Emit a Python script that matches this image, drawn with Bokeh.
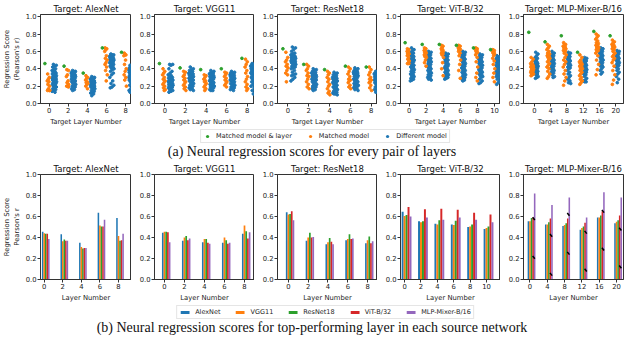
from bokeh.plotting import figure
from bokeh.models import Range1d, FixedTicker, NumeralTickFormatter, Legend, LegendItem, Div
from bokeh.layouts import column, row
from bokeh.embed import file_html
from bokeh.resources import INLINE

# ------------------------------------------------------------------ data
model_names = ["AlexNet", "VGG11", "ResNet18", "ViT-B/32", "MLP-Mixer-B/16"]
strip_legend = ["Matched model & layer", "Matched model", "Different model"]

# (a) strip plots: per target layer, green = matched model & layer, orange = matched model, blue = different model
alex_layers = [0, 2, 4, 6, 8]
alex_green = [0.46, 0.43, 0.35, 0.64, 0.59]
alex_orange = [
    [0.34, 0.30, 0.28, 0.26, 0.25, 0.22, 0.20, 0.17, 0.15, 0.15, 0.16, 0.15],
    [0.39, 0.38, 0.33, 0.31, 0.26, 0.24, 0.22, 0.20, 0.20, 0.19],
    [0.32, 0.30, 0.29, 0.27, 0.25, 0.24, 0.23, 0.22, 0.20, 0.17],
    [0.64, 0.63, 0.62, 0.60, 0.55, 0.52, 0.50, 0.47, 0.45, 0.42, 0.38, 0.33, 0.26],
    [0.58, 0.56, 0.56, 0.55, 0.50, 0.45, 0.40, 0.37, 0.33, 0.30, 0.27, 0.20],
]
alex_blue = [
    [0.45, 0.44, 0.43, 0.42, 0.40, 0.39, 0.38, 0.37, 0.36, 0.35, 0.35, 0.34, 0.33, 0.33, 0.32, 0.31, 0.31, 0.30, 0.30, 0.29, 0.29,
     0.28, 0.28, 0.27, 0.27, 0.26, 0.26, 0.25, 0.25, 0.24, 0.23, 0.23, 0.22, 0.21, 0.20, 0.19, 0.18, 0.17, 0.16, 0.15, 0.14, 0.13],
    [0.38, 0.37, 0.37, 0.36, 0.36, 0.35, 0.35, 0.34, 0.34, 0.33, 0.33, 0.32, 0.32, 0.31, 0.31, 0.30, 0.30, 0.29, 0.29, 0.28, 0.28,
     0.27, 0.26, 0.26, 0.25, 0.24, 0.23, 0.22, 0.21, 0.20, 0.19, 0.18, 0.17, 0.16, 0.15],
    [0.31, 0.30, 0.30, 0.29, 0.29, 0.28, 0.28, 0.27, 0.27, 0.26, 0.26, 0.25, 0.25, 0.24, 0.24, 0.23, 0.23, 0.22, 0.22, 0.21, 0.21,
     0.20, 0.20, 0.19, 0.19, 0.18, 0.18, 0.17, 0.16, 0.15, 0.14, 0.13, 0.12, 0.11, 0.09],
    [0.57, 0.56, 0.56, 0.55, 0.55, 0.54, 0.54, 0.53, 0.53, 0.52, 0.52, 0.51, 0.51, 0.50, 0.50, 0.49, 0.49, 0.48, 0.48, 0.47, 0.46,
     0.46, 0.45, 0.44, 0.43, 0.42, 0.41, 0.40, 0.39, 0.37, 0.35, 0.33, 0.30, 0.26, 0.23, 0.21, 0.19, 0.18],
    [0.44, 0.43, 0.42, 0.41, 0.40, 0.40, 0.39, 0.38, 0.38, 0.37, 0.36, 0.36, 0.35, 0.34, 0.34, 0.33, 0.32, 0.32, 0.31, 0.30, 0.30,
     0.29, 0.28, 0.28, 0.27, 0.26, 0.25, 0.24, 0.23, 0.21, 0.19, 0.17, 0.15, 0.14, 0.13, 0.12],
]

vgg_layers = [0, 2, 4, 6, 8]
vgg_green = [0.46, 0.41, 0.39, 0.40, 0.52]
vgg_orange = [
    [0.40, 0.37, 0.35, 0.33, 0.30, 0.28, 0.26, 0.24, 0.22, 0.20, 0.18, 0.16, 0.15],
    [0.37, 0.36, 0.33, 0.31, 0.29, 0.27, 0.25, 0.23, 0.21, 0.19, 0.17, 0.15],
    [0.33, 0.32, 0.30, 0.28, 0.26, 0.25, 0.23, 0.21, 0.19, 0.17, 0.15],
    [0.36, 0.35, 0.33, 0.31, 0.29, 0.27, 0.25, 0.23, 0.21, 0.19],
    [0.51, 0.48, 0.45, 0.42, 0.38, 0.35, 0.31, 0.28, 0.25, 0.22, 0.19, 0.17, 0.15],
]
vgg_blue = [
    [0.45, 0.45, 0.44, 0.40, 0.37, 0.35, 0.33, 0.32, 0.31, 0.30, 0.30, 0.29, 0.28, 0.28, 0.27, 0.27, 0.26, 0.26, 0.25, 0.25, 0.24,
     0.24, 0.23, 0.23, 0.22, 0.22, 0.21, 0.21, 0.20, 0.20, 0.19, 0.19, 0.18, 0.17, 0.16, 0.15, 0.14, 0.13],
    [0.42, 0.40, 0.39, 0.38, 0.37, 0.36, 0.35, 0.35, 0.34, 0.34, 0.33, 0.33, 0.32, 0.32, 0.31, 0.31, 0.30, 0.30, 0.29, 0.29, 0.28,
     0.28, 0.27, 0.27, 0.26, 0.25, 0.24, 0.23, 0.22, 0.21, 0.20, 0.19, 0.18, 0.17, 0.16, 0.15],
    [0.38, 0.37, 0.36, 0.35, 0.35, 0.34, 0.34, 0.33, 0.33, 0.32, 0.32, 0.31, 0.31, 0.30, 0.30, 0.29, 0.28, 0.28, 0.27, 0.26, 0.25,
     0.25, 0.24, 0.23, 0.22, 0.22, 0.21, 0.20, 0.20, 0.19, 0.18, 0.17, 0.16, 0.15, 0.15],
    [0.37, 0.36, 0.35, 0.35, 0.34, 0.34, 0.33, 0.33, 0.32, 0.32, 0.31, 0.31, 0.30, 0.30, 0.29, 0.29, 0.28, 0.28, 0.27, 0.27, 0.26,
     0.26, 0.25, 0.24, 0.23, 0.23, 0.22, 0.21, 0.20, 0.19, 0.18, 0.17, 0.16, 0.15],
    [0.46, 0.45, 0.45, 0.44, 0.44, 0.43, 0.43, 0.42, 0.42, 0.41, 0.41, 0.40, 0.40, 0.39, 0.39, 0.38, 0.37, 0.37, 0.36, 0.35, 0.34,
     0.33, 0.32, 0.31, 0.30, 0.29, 0.28, 0.27, 0.26, 0.25, 0.24, 0.22, 0.20, 0.18, 0.15, 0.13, 0.11],
]

res_layers = [0, 2, 4, 6, 8]
res_green = [0.63, 0.45, 0.39, 0.43, 0.42]
res_orange = [
    [0.59, 0.53, 0.50, 0.48, 0.45, 0.43, 0.41, 0.38, 0.35, 0.33, 0.25],
    [0.45, 0.43, 0.40, 0.38, 0.35, 0.32, 0.31, 0.28, 0.25, 0.22, 0.19, 0.17],
    [0.37, 0.35, 0.33, 0.30, 0.28, 0.25, 0.22, 0.20, 0.17, 0.14, 0.12, 0.10],
    [0.42, 0.40, 0.37, 0.34, 0.31, 0.28, 0.27, 0.26, 0.24, 0.21, 0.19, 0.17],
    [0.42, 0.39, 0.36, 0.33, 0.30, 0.28, 0.27, 0.25, 0.24, 0.21, 0.18, 0.15],
]
res_blue = [
    [0.65, 0.64, 0.62, 0.60, 0.58, 0.57, 0.56, 0.55, 0.55, 0.54, 0.54, 0.53, 0.53, 0.52, 0.52, 0.51, 0.51, 0.50, 0.50, 0.49, 0.49,
     0.48, 0.48, 0.47, 0.47, 0.46, 0.46, 0.45, 0.44, 0.43, 0.42, 0.41, 0.40, 0.38, 0.36, 0.34, 0.33, 0.32, 0.30, 0.28, 0.26],
    [0.40, 0.39, 0.38, 0.37, 0.36, 0.35, 0.35, 0.34, 0.34, 0.33, 0.33, 0.32, 0.32, 0.31, 0.31, 0.30, 0.30, 0.29, 0.29, 0.28, 0.28,
     0.27, 0.27, 0.26, 0.25, 0.24, 0.23, 0.22, 0.21, 0.20, 0.19, 0.18, 0.17, 0.16, 0.15],
    [0.36, 0.35, 0.34, 0.33, 0.32, 0.31, 0.30, 0.30, 0.29, 0.29, 0.28, 0.28, 0.27, 0.27, 0.26, 0.26, 0.25, 0.25, 0.24, 0.24, 0.23,
     0.22, 0.21, 0.20, 0.19, 0.18, 0.17, 0.16, 0.15, 0.14, 0.13, 0.12, 0.12, 0.11, 0.11, 0.10],
    [0.41, 0.40, 0.39, 0.38, 0.37, 0.37, 0.36, 0.36, 0.35, 0.35, 0.34, 0.34, 0.33, 0.33, 0.32, 0.32, 0.31, 0.30, 0.29, 0.28, 0.27,
     0.26, 0.25, 0.24, 0.23, 0.22, 0.22, 0.21, 0.21, 0.20, 0.20, 0.19, 0.18, 0.17, 0.16, 0.15],
    [0.37, 0.36, 0.36, 0.35, 0.35, 0.34, 0.34, 0.33, 0.33, 0.32, 0.32, 0.31, 0.31, 0.30, 0.30, 0.29, 0.29, 0.28, 0.28, 0.27, 0.27,
     0.26, 0.26, 0.25, 0.24, 0.23, 0.22, 0.21, 0.20, 0.19, 0.18, 0.17, 0.16, 0.14, 0.13, 0.12],
]

vit_layers = [0, 2, 4, 6, 8, 10]
vit_green = [0.70, 0.68, 0.68, 0.67, 0.64, 0.62]
vit_orange = [
    [0.63, 0.62, 0.61, 0.60, 0.59, 0.58, 0.57, 0.56, 0.55, 0.53, 0.51, 0.49, 0.47, 0.46, 0.46],
    [0.64, 0.63, 0.62, 0.61, 0.60, 0.59, 0.58, 0.57, 0.56, 0.55, 0.54, 0.53, 0.50, 0.47, 0.43],
    [0.67, 0.66, 0.65, 0.63, 0.62, 0.61, 0.60, 0.59, 0.58, 0.57, 0.56, 0.53, 0.47, 0.40, 0.32],
    [0.67, 0.66, 0.65, 0.64, 0.63, 0.62, 0.62, 0.61, 0.60, 0.58, 0.55, 0.50, 0.45, 0.38, 0.29],
    [0.64, 0.63, 0.63, 0.62, 0.61, 0.60, 0.59, 0.58, 0.56, 0.53, 0.48, 0.42, 0.35, 0.30, 0.26],
    [0.62, 0.61, 0.61, 0.60, 0.59, 0.58, 0.57, 0.55, 0.52, 0.49, 0.45, 0.40, 0.35, 0.30, 0.25],
]
vit_blue = [
    [0.64, 0.62, 0.61, 0.59, 0.58, 0.57, 0.56, 0.55, 0.55, 0.54, 0.53, 0.52, 0.52, 0.51, 0.50, 0.49, 0.49, 0.48, 0.47, 0.46, 0.45,
     0.45, 0.44, 0.43, 0.42, 0.41, 0.40, 0.39, 0.38, 0.37, 0.36, 0.35, 0.34, 0.33, 0.32, 0.31, 0.30, 0.29, 0.28, 0.27, 0.26],
    [0.60, 0.59, 0.58, 0.57, 0.56, 0.55, 0.54, 0.53, 0.53, 0.52, 0.51, 0.50, 0.49, 0.48, 0.48, 0.47, 0.46, 0.45, 0.44, 0.43, 0.42,
     0.41, 0.40, 0.39, 0.38, 0.37, 0.36, 0.35, 0.34, 0.33, 0.32, 0.31, 0.30, 0.29, 0.28, 0.27],
    [0.58, 0.57, 0.56, 0.55, 0.54, 0.53, 0.52, 0.51, 0.50, 0.50, 0.49, 0.48, 0.47, 0.46, 0.45, 0.44, 0.43, 0.43, 0.42, 0.41, 0.40,
     0.39, 0.38, 0.37, 0.36, 0.35, 0.34, 0.33, 0.32, 0.31, 0.30, 0.29, 0.28],
    [0.60, 0.59, 0.58, 0.57, 0.56, 0.55, 0.54, 0.53, 0.52, 0.51, 0.50, 0.49, 0.48, 0.47, 0.46, 0.45, 0.44, 0.43, 0.42, 0.41, 0.40,
     0.39, 0.38, 0.37, 0.36, 0.35, 0.34, 0.33, 0.32, 0.31, 0.30, 0.29, 0.28, 0.27, 0.26],
    [0.57, 0.56, 0.55, 0.54, 0.53, 0.52, 0.51, 0.50, 0.49, 0.48, 0.47, 0.46, 0.45, 0.44, 0.44, 0.43, 0.42, 0.41, 0.40, 0.39, 0.38,
     0.37, 0.36, 0.35, 0.34, 0.33, 0.32, 0.31, 0.30, 0.28, 0.26, 0.24, 0.23],
    [0.55, 0.54, 0.53, 0.52, 0.51, 0.50, 0.49, 0.48, 0.47, 0.46, 0.45, 0.44, 0.43, 0.42, 0.41, 0.40, 0.39, 0.38, 0.37, 0.36, 0.35,
     0.34, 0.33, 0.32, 0.31, 0.30, 0.28, 0.26, 0.24, 0.22],
]

mlp_layers = [0, 4, 8, 12, 16, 20]
mlp_green = [0.82, 0.71, 0.78, 0.59, 0.83, 0.78]
mlp_orange = [
    [0.53, 0.51, 0.48, 0.46, 0.45, 0.44, 0.43, 0.42, 0.42, 0.41, 0.40, 0.40, 0.39, 0.38, 0.38, 0.37, 0.36, 0.36, 0.35, 0.34, 0.33, 0.32],
    [0.68, 0.66, 0.64, 0.62, 0.60, 0.58, 0.57, 0.56, 0.55, 0.54, 0.53, 0.52, 0.50, 0.48, 0.46, 0.44, 0.42, 0.40, 0.37, 0.34, 0.31, 0.29],
    [0.70, 0.68, 0.67, 0.66, 0.65, 0.64, 0.63, 0.62, 0.61, 0.60, 0.58, 0.56, 0.53, 0.50, 0.48, 0.45, 0.42, 0.38, 0.34, 0.30, 0.26, 0.21],
    [0.56, 0.53, 0.50, 0.48, 0.47, 0.46, 0.45, 0.44, 0.43, 0.42, 0.41, 0.40, 0.39, 0.38, 0.36, 0.34, 0.32, 0.30, 0.28, 0.26, 0.24, 0.22],
    [0.80, 0.78, 0.76, 0.74, 0.72, 0.70, 0.69, 0.68, 0.67, 0.66, 0.65, 0.64, 0.63, 0.62, 0.61, 0.60, 0.58, 0.55, 0.50, 0.45, 0.39, 0.33],
    [0.73, 0.71, 0.70, 0.68, 0.67, 0.66, 0.65, 0.64, 0.63, 0.62, 0.60, 0.58, 0.56, 0.54, 0.52, 0.50, 0.47, 0.43, 0.38, 0.33, 0.27, 0.22],
]
mlp_blue = [
    [0.59, 0.57, 0.55, 0.53, 0.52, 0.50, 0.49, 0.48, 0.47, 0.46, 0.45, 0.45, 0.44, 0.43, 0.43, 0.42, 0.41, 0.41, 0.40, 0.39, 0.39,
     0.38, 0.37, 0.36, 0.35, 0.34, 0.33, 0.31, 0.30, 0.29],
    [0.60, 0.58, 0.57, 0.56, 0.55, 0.54, 0.53, 0.52, 0.51, 0.50, 0.49, 0.48, 0.48, 0.47, 0.46, 0.45, 0.44, 0.43, 0.42, 0.41, 0.40,
     0.39, 0.38, 0.37, 0.36, 0.35, 0.33, 0.31, 0.30],
    [0.59, 0.58, 0.56, 0.55, 0.54, 0.53, 0.52, 0.51, 0.50, 0.49, 0.48, 0.47, 0.46, 0.45, 0.44, 0.43, 0.42, 0.41, 0.40, 0.38, 0.36,
     0.34, 0.32, 0.30, 0.28, 0.26, 0.24, 0.23],
    [0.53, 0.52, 0.51, 0.50, 0.49, 0.48, 0.47, 0.46, 0.45, 0.44, 0.43, 0.42, 0.41, 0.40, 0.39, 0.38, 0.37, 0.36, 0.35, 0.34, 0.33,
     0.31, 0.29, 0.27, 0.26, 0.25, 0.25],
    [0.64, 0.63, 0.62, 0.61, 0.60, 0.59, 0.58, 0.57, 0.56, 0.55, 0.54, 0.53, 0.52, 0.51, 0.50, 0.49, 0.48, 0.47, 0.46, 0.45, 0.44,
     0.43, 0.42, 0.40, 0.38, 0.36, 0.34],
    [0.61, 0.60, 0.59, 0.58, 0.57, 0.56, 0.55, 0.54, 0.53, 0.52, 0.51, 0.50, 0.49, 0.48, 0.47, 0.46, 0.45, 0.44, 0.43, 0.42, 0.40,
     0.38, 0.36, 0.34, 0.31, 0.28, 0.24],
]

# (b) best layer of each source network (rows: source AlexNet, VGG11, ResNet18, ViT-B/32, MLP-Mixer-B/16)
alex_bars = [
    [0.455, 0.43, 0.35, 0.635, 0.585],
    [0.44, 0.365, 0.31, 0.515, 0.415],
    [0.435, 0.38, 0.295, 0.505, 0.37],
    [0.435, 0.37, 0.30, 0.505, 0.375],
    [0.385, 0.37, 0.30, 0.57, 0.435],
]
vgg_bars = [
    [0.445, 0.37, 0.355, 0.35, 0.435],
    [0.455, 0.40, 0.385, 0.40, 0.515],
    [0.455, 0.415, 0.385, 0.375, 0.46],
    [0.45, 0.375, 0.35, 0.34, 0.39],
    [0.355, 0.39, 0.34, 0.35, 0.45],
]
res_bars = [
    [0.64, 0.37, 0.335, 0.375, 0.345],
    [0.62, 0.40, 0.355, 0.385, 0.375],
    [0.625, 0.445, 0.395, 0.43, 0.41],
    [0.65, 0.40, 0.36, 0.385, 0.345],
    [0.565, 0.405, 0.335, 0.39, 0.365],
]
vit_bars = [
    [0.645, 0.555, 0.53, 0.525, 0.50, 0.48],
    [0.605, 0.545, 0.525, 0.52, 0.505, 0.49],
    [0.615, 0.555, 0.565, 0.56, 0.525, 0.505],
    [0.69, 0.67, 0.675, 0.665, 0.635, 0.62],
    [0.60, 0.59, 0.57, 0.59, 0.57, 0.545],
]
mlp_bars = [
    [0.555, 0.525, 0.51, 0.475, 0.59, 0.535],
    [0.555, 0.525, 0.52, 0.49, 0.59, 0.55],
    [0.585, 0.545, 0.535, 0.505, 0.61, 0.565],
    [0.59, 0.58, 0.58, 0.54, 0.65, 0.61],
    [0.82, 0.71, 0.78, 0.59, 0.83, 0.78],
]
mlp_marks_upper = [0.58, 0.42, 0.62, 0.45, 0.65, 0.48]
mlp_marks_lower = [0.21, 0.05, 0.25, 0.09, 0.29, 0.12]

y_ticks = [0.0, 0.2, 0.4, 0.6, 0.8, 1.0]

# ------------------------------------------------------------------ style / layout
BLUE, ORANGE, GREEN, RED, PURPLE = "#1f77b4", "#ff7f0e", "#2ca02c", "#d62728", "#9467bd"
SRC_COLORS = [BLUE, ORANGE, GREEN, RED, PURPLE]
FONT = "DejaVu Sans"
AX = "#333333"
FRAME_W = 100
LEFTS = [31, 23, 23, 23, 23]
RIGHTS = [0, 0, 0, 0, 1]
NAN = float("nan")

# per panel: x range, layer spacing, (green offset, orange centre, orange half-width, blue centre, blue half-width) in spacings
top_panels = [
    (alex_layers, alex_green, alex_orange, alex_blue, (-0.9, 8.6), 2, (-0.22, -0.03, 0.07, 0.27, 0.12)),
    (vgg_layers, vgg_green, vgg_orange, vgg_blue, (-1.0, 8.7), 2, (-0.26, -0.04, 0.07, 0.28, 0.12)),
    (res_layers, res_green, res_orange, res_blue, (-1.0, 8.6), 2, (-0.24, -0.05, 0.07, 0.26, 0.12)),
    (vit_layers, vit_green, vit_orange, vit_blue, (-1.0, 10.7), 2, (-0.23, -0.05, 0.07, 0.19, 0.12)),
    (mlp_layers, mlp_green, mlp_orange, mlp_blue, (-2.7, 21.9), 4, (-0.35, -0.14, 0.10, 0.12, 0.11)),
]
bot_panels = [
    (alex_layers, alex_bars, (-0.4, 9.4), 0.165),
    (vgg_layers, vgg_bars, (-1.0, 9.0), 0.17),
    (res_layers, res_bars, (-1.1, 9.0), 0.17),
    (vit_layers, vit_bars, (-0.5, 11.7), 0.24),
    (mlp_layers, mlp_bars, (-1.5, 21.6), 0.36),
]


def jit(j):
    return ((j * 0.6180339887 + 0.31) % 1.0) * 2 - 1


def base_fig(i, title, xr, xticks, height, ymax, xlabel, ylabel):
    p = figure(width=LEFTS[i] + FRAME_W + RIGHTS[i], height=height,
               x_range=Range1d(*xr), y_range=Range1d(0, ymax),
               output_backend="svg", toolbar_location=None,
               min_border_left=LEFTS[i], min_border_right=RIGHTS[i],
               min_border_top=12, min_border_bottom=22)
    p.title.text = title
    p.title.align = "center"
    p.title.text_font = FONT
    p.title.text_font_size = "8.5px"
    p.title.text_font_style = "normal"
    p.title.text_color = "#111111"
    p.title.standoff = 2
    p.title.offset = 0
    p.grid.visible = False
    p.outline_line_color = AX
    p.outline_line_width = 1
    for ax in (p.xaxis[0], p.yaxis[0]):
        ax.major_tick_in = 0
        ax.major_tick_out = 3
        ax.minor_tick_line_color = None
        ax.axis_line_color = AX
        ax.major_tick_line_color = AX
        ax.major_label_text_font = FONT
        ax.major_label_text_font_size = "6.8px"
        ax.major_label_text_color = "#222222"
        ax.major_label_standoff = 1
        ax.axis_label_text_font = FONT
        ax.axis_label_text_font_size = "6.8px"
        ax.axis_label_text_font_style = "normal"
        ax.axis_label_text_color = "#222222"
        ax.axis_label_standoff = 2
    p.xaxis.ticker = FixedTicker(ticks=xticks)
    p.yaxis.ticker = FixedTicker(ticks=y_ticks)
    p.yaxis.formatter = NumeralTickFormatter(format="0.0")
    p.xaxis.axis_label = xlabel
    if ylabel:
        p.yaxis.axis_label = ylabel
    return p


top_figs = []
for i, (layers, green, orange, blue, xr, d, offs) in enumerate(top_panels):
    g_off, o_off, o_w, b_off, b_w = offs
    p = base_fig(i, "Target: " + model_names[i], xr, layers, 128, 1.025,
                 "Target Layer Number", "Regression Score\n(Pearson's r)" if i == 0 else None)
    bx, by, ox, oy = [], [], [], []
    for k, lay in enumerate(layers):
        for j, v in enumerate(blue[k]):
            bx.append(lay + b_off * d + b_w * d * jit(j))
            by.append(v)
        for j, v in enumerate(orange[k]):
            ox.append(lay + o_off * d + o_w * d * jit(j + 3))
            oy.append(v)
    gx = [lay + g_off * d for lay in layers]
    p.scatter(bx, by, size=2.7, color=BLUE)
    p.scatter(ox, oy, size=2.7, color=ORANGE)
    p.scatter(gx, green, size=2.7, color=GREEN)
    top_figs.append(p)

bot_figs = []
for i, (layers, bars, xr, w) in enumerate(bot_panels):
    p = base_fig(i, "Target: " + model_names[i], xr, layers, 144, 1.0,
                 "Layer Number", "Regression Score\nPearson's r" if i == 0 else None)
    for s, vals in enumerate(bars):
        p.vbar(x=[lay + (s - 1) * w for lay in layers], top=vals, width=w,
               color=SRC_COLORS[s], line_color=None)
    if i == 4:
        mx = [lay + 2.4 * w for lay in layers]
        for marks in (mlp_marks_upper, mlp_marks_lower):
            p.scatter(mx, marks, marker="dash", size=3.5, angle=-0.9,
                      line_color="black", line_width=1.5)
    bot_figs.append(p)


def legend_fig(labels, colors, bars):
    lf = figure(width=624, height=15, x_range=Range1d(0, 1), y_range=Range1d(0, 1),
                x_axis_type=None, y_axis_type=None, output_backend="svg",
                toolbar_location=None, min_border=0, min_border_left=26,
                outline_line_color=None)
    lf.grid.visible = False
    items = []
    for lab, col in zip(labels, colors):
        if bars:
            r = lf.vbar(x=[NAN], top=[NAN], width=0.1, fill_color=col, line_color=None)
        else:
            r = lf.scatter(x=[NAN], y=[NAN], size=4, fill_color=col, line_color=None)
        items.append(LegendItem(label=lab, renderers=[r]))
    leg = Legend(items=items, orientation="horizontal", location="center",
                 label_text_font=FONT, label_text_font_size="6.5px",
                 label_text_color="#222222", label_standoff=5,
                 glyph_width=11 if bars else 8, glyph_height=4 if bars else 8,
                 label_height=7, spacing=14, padding=2, margin=0,
                 border_line_color="#cccccc", border_line_width=1,
                 background_fill_color="white")
    lf.add_layout(leg, "center")
    return lf


def caption(text):
    return Div(text=text, width=624, height=17, margin=(0, 0, 0, 0),
               styles={"font-family": "'Liberation Serif', serif", "font-size": "14px",
                       "text-align": "center", "width": "624px", "line-height": "17px",
                       "color": "#111111"})


layout = column(
    row(*top_figs, spacing=0),
    legend_fig(strip_legend, [GREEN, ORANGE, BLUE], False),
    caption("(a) Neural regression scores for every pair of layers"),
    row(*bot_figs, spacing=0),
    legend_fig(model_names, SRC_COLORS, True),
    caption("(b) Neural regression scores for top-performing layer in each source network"),
    spacing=0,
)

open("out.html", "w").write(file_html(layout, INLINE))
